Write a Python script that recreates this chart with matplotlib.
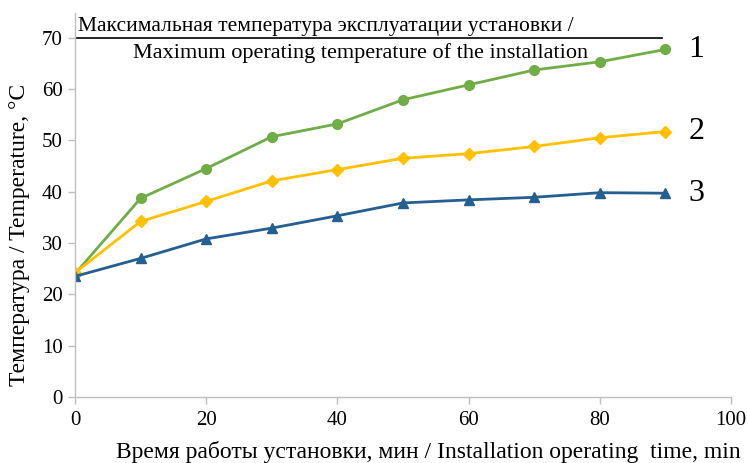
import matplotlib
matplotlib.use("Agg")
import matplotlib.pyplot as plt

# time, min
minutes = [0, 10, 20, 30, 40, 50, 60, 70, 80, 90]
# temperature, C
curve1 = [24.0, 38.7, 44.5, 50.7, 53.2, 57.9, 60.8, 63.7, 65.3, 67.7]
curve2 = [24.2, 34.2, 38.1, 42.1, 44.3, 46.5, 47.4, 48.8, 50.5, 51.7]
curve3 = [23.5, 27.0, 30.8, 32.9, 35.3, 37.8, 38.4, 38.9, 39.8, 39.7]
curve_names = ["1", "2", "3"]
max_temp = 70
x_ticks = [0, 20, 40, 60, 80, 100]
y_ticks = [0, 10, 20, 30, 40, 50, 60, 70]

plt.rcParams['font.family'] = ['Liberation Serif', 'DejaVu Serif']

fig = plt.figure(figsize=(7.48, 4.63), dpi=100)
ax = fig.add_axes([75 / 748, 66 / 463, 656 / 748, 384 / 463])

ax.plot(minutes, curve1, color='#70AD47', lw=2, marker='o', ms=7)
ax.plot(minutes, curve2, color='#FFC000', lw=2, marker='D', ms=6)
ax.plot(minutes, curve3, color='#255E91', lw=2, marker='^', ms=7)

for name, ys in zip(curve_names, [curve1, curve2, curve3]):
    ax.text(minutes[-1] + 3.5, ys[-1], name, fontsize=23, va='center', ha='left')

# maximum temperature line
ax.plot([0, 89.5], [max_temp, max_temp], color='black', lw=1.2)
ax.text(0.5, max_temp + 0.4, "Максимальная температура эксплуатации установки /",
        ha='left', va='bottom', fontsize=15.5)
ax.text(43.6, max_temp - 1.0, "Maximum operating temperature of the installation",
        ha='center', va='top', fontsize=16)

ax.set_xlim(0, 100)
ax.set_ylim(0, 74.8)
ax.set_xticks(x_ticks)
ax.set_yticks(y_ticks)
ax.tick_params(labelsize=15, color='#BFBFBF', length=5, width=1)
ax.tick_params(axis='x', pad=5)
ax.tick_params(axis='y', pad=4)
for s in ['top', 'right']:
    ax.spines[s].set_visible(False)
for s in ['left', 'bottom']:
    ax.spines[s].set_color('#BFBFBF')
    ax.spines[s].set_linewidth(1)

fig.text(20 / 748, 1 - 235 / 463, "Температура / Temperature, °C",
         rotation=90, ha='center', va='center', fontsize=17)
fig.text(428 / 748, 1 - 452 / 463,
         "Время работы установки, мин / Installation operating  time, min",
         ha='center', va='center', fontsize=17)

fig.savefig('out.png', dpi=100)
